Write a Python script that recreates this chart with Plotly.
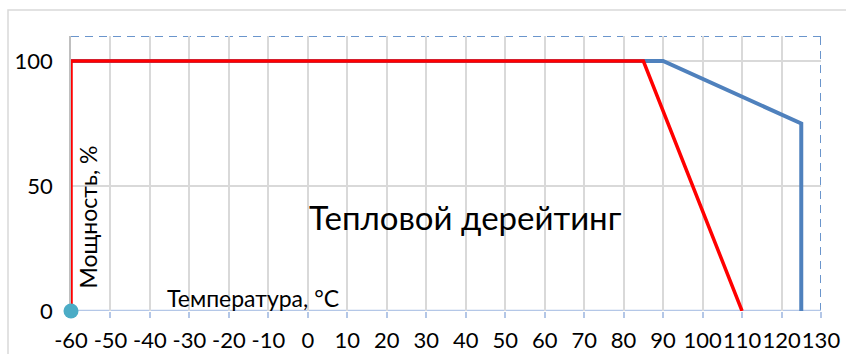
import plotly.graph_objects as go

# data
temp_ticks = list(range(-60, 131, 10))
temp_labels = [str(t) for t in temp_ticks]
power_ticks = [0, 50, 100]
red_t = [-60, -60, 85, 110]
red_p = [0, 100, 100, 0]
blue_t = [-60, 90, 125, 125]
blue_p = [100, 100, 75, 0]
origin_t = [-60]
origin_p = [0]

FONT = "Lato, 'Open Sans', sans-serif"

fig = go.Figure()

fig.add_trace(go.Scatter(
    x=blue_t, y=blue_p, mode="lines",
    line=dict(color="#4f81bd", width=4), hoverinfo="skip"
))
fig.add_trace(go.Scatter(
    x=red_t, y=red_p, mode="lines",
    line=dict(color="#ff0000", width=3.5), hoverinfo="skip"
))
fig.add_trace(go.Scatter(
    x=origin_t, y=origin_p, mode="markers",
    marker=dict(color="#4bacc6", size=15, line=dict(width=0)),
    hoverinfo="skip", cliponaxis=False
))

# dashed frame (top and right) and light x axis line
frame = dict(color="#6a95cc", width=2, dash="8px,6px")
fig.add_shape(type="line", x0=-60, x1=130, y0=110, y1=110, line=frame, layer="below")
fig.add_shape(type="line", x0=130, x1=130, y0=0, y1=110, line=frame, layer="below")
fig.add_shape(type="line", x0=-60, x1=130, y0=0, y1=0,
              line=dict(color="#b4c7e7", width=2.5), layer="below")

# outer chart border
fig.add_shape(type="rect", xref="paper", yref="paper",
              x0=-63 / 750, x1=1.2, y0=-1, y1=(311 - 10) / 275,
              line=dict(color="#d9d9d9", width=1.5), layer="below")

fig.add_annotation(x=40, y=37.5, text="Тепловой дерейтинг", showarrow=False,
                   font=dict(family=FONT, size=33, color="#000000"))
fig.add_annotation(x=-55.6, y=37.5, text="Мощность, %", showarrow=False, textangle=-90,
                   font=dict(family=FONT, size=23, color="#000000"))
fig.add_annotation(x=-14, y=5.2, text="Температура, °C", showarrow=False,
                   font=dict(family=FONT, size=23, color="#000000"))

fig.update_layout(
    width=846, height=354,
    margin=dict(l=71, r=25, t=36, b=43, autoexpand=False),
    showlegend=False,
    plot_bgcolor="white", paper_bgcolor="white",
    font=dict(family=FONT, size=22, color="#000000"),
    xaxis=dict(
        range=[-60, 130], tickvals=temp_ticks, ticktext=temp_labels, tickangle=0,
        showgrid=True, gridcolor="#d9d9d9", gridwidth=1.5, zeroline=False, showline=False,
        ticks="outside", ticklen=6, tickcolor="#b4c7e7", tickwidth=2,
        ticklabelstandoff=4, automargin=False, fixedrange=True, layer="below traces",
    ),
    yaxis=dict(
        range=[0, 110], tickvals=power_ticks, showgrid=True, gridcolor="#d9d9d9",
        gridwidth=1.5, zeroline=False, showline=True, linecolor="#bfbfbf", linewidth=1.5,
        ticks="", ticklabelstandoff=12, automargin=False, fixedrange=True, layer="below traces",
    ),
)

# reset body margin; make sure the origin marker is not clipped
post = (
    "document.body.style.margin='0';document.body.style.overflow='hidden';"
    "document.querySelectorAll('.scatterlayer .trace, .scatterlayer .points')"
    ".forEach(function(el){el.removeAttribute('clip-path');});"
)

fig.write_html("out.html", config={"displayModeBar": False}, post_script=post)
